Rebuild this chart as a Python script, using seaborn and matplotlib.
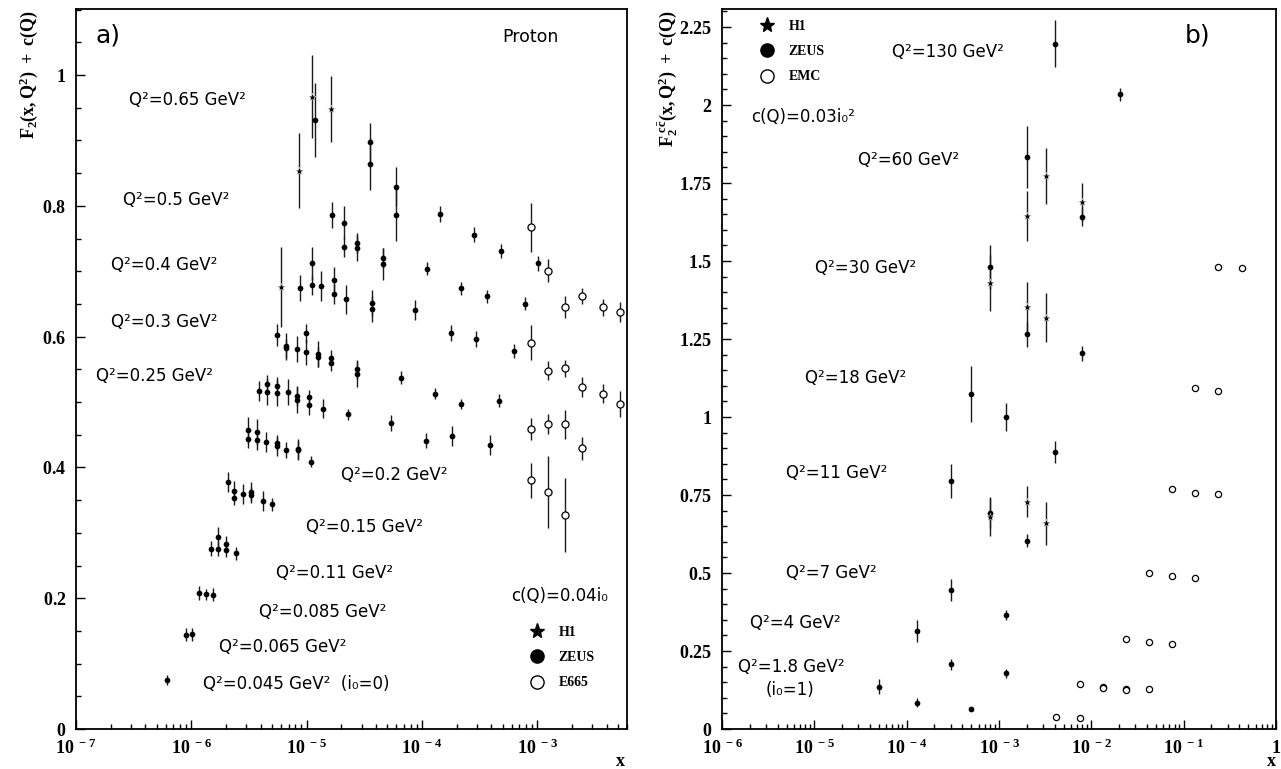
import numpy as np
import pandas as pd
import matplotlib
matplotlib.use("Agg")
import matplotlib.pyplot as plt
import seaborn as sns
from matplotlib.ticker import LogLocator, MultipleLocator, FuncFormatter, NullFormatter
from matplotlib.lines import Line2D

# ---------------- data: panel a) proton F2 ----------------
a_h1_x = [8.6e-6, 1.12e-5, 1.62e-5, 6.0e-6]
a_h1_y = [0.854, 0.967, 0.948, 0.676]
a_h1_err = [0.057, 0.063, 0.050, 0.061]

a_zeus_x = [
    1.19e-5, 3.57e-5, 3.57e-5, 5.97e-5, 5.97e-5, 1.42e-4, 2.85e-4, 4.8e-4, 1.02e-3,
    1.65e-5, 2.11e-5, 2.11e-5, 2.75e-5, 2.75e-5, 4.57e-5, 4.57e-5, 1.10e-4, 2.2e-4, 3.64e-4, 7.83e-4,
    8.8e-6, 1.11e-5, 1.11e-5, 1.34e-5, 1.71e-5, 1.71e-5, 2.21e-5, 3.66e-5, 3.66e-5, 8.75e-5, 1.77e-4, 2.92e-4, 6.24e-4,
    5.53e-6, 6.6e-6, 6.6e-6, 8.2e-6, 9.96e-6, 9.96e-6, 1.26e-5, 1.26e-5, 1.63e-5, 1.63e-5, 2.72e-5, 2.72e-5,
    6.55e-5, 1.31e-4, 2.18e-4, 4.7e-4,
    3.87e-6, 4.56e-6, 4.56e-6, 5.51e-6, 5.51e-6, 6.85e-6, 8.3e-6, 8.3e-6, 1.05e-5, 1.05e-5, 1.38e-5, 2.28e-5,
    5.42e-5, 1.09e-4, 1.81e-4, 3.89e-4,
    3.13e-6, 3.13e-6, 3.69e-6, 3.69e-6, 4.42e-6, 5.55e-6, 5.55e-6, 6.62e-6, 8.45e-6, 8.45e-6, 1.10e-5,
    2.07e-6, 2.36e-6, 2.36e-6, 2.80e-6, 3.29e-6, 3.29e-6, 4.17e-6, 5.02e-6,
    1.49e-6, 1.70e-6, 1.70e-6, 2.00e-6, 2.00e-6, 2.42e-6,
    1.17e-6, 1.33e-6, 1.54e-6,
    9.0e-7, 1.02e-6,
    6.15e-7,
]
a_zeus_y = [
    0.931, 0.897, 0.864, 0.829, 0.786, 0.788, 0.756, 0.731, 0.712,
    0.786, 0.774, 0.737, 0.743, 0.735, 0.720, 0.711, 0.704, 0.674, 0.662, 0.650,
    0.675, 0.712, 0.679, 0.677, 0.687, 0.665, 0.657, 0.652, 0.642, 0.641, 0.606, 0.596, 0.578,
    0.602, 0.585, 0.582, 0.581, 0.605, 0.576, 0.574, 0.569, 0.568, 0.560, 0.550, 0.543,
    0.537, 0.513, 0.497, 0.502,
    0.517, 0.527, 0.515, 0.524, 0.514, 0.515, 0.509, 0.503, 0.507, 0.495, 0.490, 0.481,
    0.468, 0.441, 0.448, 0.434,
    0.457, 0.444, 0.454, 0.442, 0.439, 0.438, 0.432, 0.427, 0.428, 0.426, 0.409,
    0.378, 0.364, 0.354, 0.359, 0.363, 0.358, 0.349, 0.344,
    0.276, 0.294, 0.276, 0.283, 0.273, 0.269,
    0.208, 0.206, 0.205,
    0.144, 0.145,
    0.075,
]
a_zeus_err = [
    0.057, 0.030, 0.040, 0.030, 0.040, 0.012, 0.012, 0.010, 0.012,
    0.020, 0.025, 0.015, 0.015, 0.020, 0.015, 0.025, 0.010, 0.010, 0.010, 0.010,
    0.020, 0.025, 0.015, 0.023, 0.020, 0.015, 0.022, 0.020, 0.020, 0.015, 0.012, 0.012, 0.010,
    0.017, 0.020, 0.015, 0.020, 0.015, 0.020, 0.020, 0.015, 0.012, 0.012, 0.015, 0.020,
    0.010, 0.008, 0.008, 0.010,
    0.015, 0.015, 0.020, 0.015, 0.020, 0.020, 0.015, 0.020, 0.012, 0.015, 0.015, 0.008,
    0.012, 0.012, 0.015, 0.015,
    0.020, 0.015, 0.020, 0.015, 0.015, 0.012, 0.015, 0.012, 0.015, 0.015, 0.008,
    0.015, 0.015, 0.012, 0.015, 0.015, 0.012, 0.015, 0.010,
    0.012, 0.015, 0.012, 0.012, 0.010, 0.010,
    0.010, 0.008, 0.010,
    0.010, 0.010,
    0.008,
]

a_e665_x = [8.86e-4, 1.24e-3, 1.75e-3, 2.45e-3, 3.68e-3, 5.18e-3,
            8.86e-4, 1.24e-3, 1.75e-3, 2.45e-3, 3.68e-3, 5.18e-3,
            8.86e-4, 1.24e-3, 1.75e-3, 2.45e-3,
            8.86e-4, 1.24e-3, 1.75e-3]
a_e665_y = [0.767, 0.701, 0.645, 0.662, 0.645, 0.638,
            0.591, 0.548, 0.552, 0.523, 0.513, 0.497,
            0.459, 0.466, 0.466, 0.429,
            0.380, 0.363, 0.327]
a_e665_err = [0.037, 0.017, 0.017, 0.012, 0.013, 0.015,
              0.027, 0.015, 0.013, 0.015, 0.015, 0.020,
              0.017, 0.015, 0.022, 0.018,
              0.027, 0.055, 0.057]

a_labels = ["Q²=0.65 GeV²", "Q²=0.5 GeV²", "Q²=0.4 GeV²", "Q²=0.3 GeV²", "Q²=0.25 GeV²",
            "Q²=0.2 GeV²", "Q²=0.15 GeV²", "Q²=0.11 GeV²", "Q²=0.085 GeV²",
            "Q²=0.065 GeV²", "Q²=0.045 GeV²  (i₀=0)", "c(Q)=0.04i₀"]

# ---------------- data: panel b) charm F2 ----------------
b_h1_x = [2.0e-3, 3.21e-3, 8.0e-3, 8.0e-4, 2.0e-3, 3.21e-3, 8.0e-4, 2.0e-3, 3.21e-3]
b_h1_y = [1.644, 1.772, 1.690, 1.430, 1.354, 1.319, 0.680, 0.728, 0.659]
b_h1_err = [0.080, 0.090, 0.060, 0.090, 0.080, 0.080, 0.060, 0.050, 0.070]

b_zeus_x = [4.06e-3, 2.02e-2, 2.0e-3, 8.0e-3, 8.0e-4, 2.0e-3, 8.0e-3, 4.95e-4, 1.2e-3, 4.06e-3,
            2.99e-4, 8.0e-4, 2.0e-3, 2.99e-4, 1.2e-3, 1.30e-4, 2.99e-4, 1.2e-3, 5.0e-5, 1.30e-4, 4.95e-4]
b_zeus_y = [2.197, 2.034, 1.834, 1.642, 1.480, 1.265, 1.204, 1.074, 1.001, 0.889,
            0.796, 0.693, 0.604, 0.446, 0.365, 0.315, 0.207, 0.178, 0.136, 0.084, 0.063]
b_zeus_err = [0.076, 0.022, 0.100, 0.030, 0.070, 0.040, 0.025, 0.090, 0.045, 0.035,
              0.055, 0.050, 0.020, 0.035, 0.015, 0.035, 0.018, 0.014, 0.025, 0.015, 0.006]

b_emc_x = [0.236, 0.426, 0.132, 0.236, 0.0748, 0.132, 0.236, 0.042, 0.0748, 0.132,
           0.0235, 0.042, 0.0748, 7.46e-3, 0.0133, 0.0133, 0.0235, 0.0235, 0.042, 4.19e-3, 7.46e-3]
b_emc_y = [1.482, 1.477, 1.092, 1.084, 0.768, 0.757, 0.753, 0.499, 0.491, 0.485,
           0.287, 0.280, 0.272, 0.144, 0.134, 0.130, 0.127, 0.126, 0.127, 0.037, 0.034]

b_labels = ["Q²=130 GeV²", "c(Q)=0.03i₀²", "Q²=60 GeV²", "Q²=30 GeV²", "Q²=18 GeV²",
            "Q²=11 GeV²", "Q²=7 GeV²", "Q²=4 GeV²", "Q²=1.8 GeV²", "(i₀=1)"]

# ---------------- style ----------------
sns.set_theme(style="ticks")
plt.rcParams["font.family"] = ["DejaVu Sans"]
plt.rcParams["text.color"] = "black"
plt.rcParams["axes.labelcolor"] = "black"
plt.rcParams["xtick.color"] = "black"
plt.rcParams["ytick.color"] = "black"
plt.rcParams["mathtext.fontset"] = "custom"
plt.rcParams["mathtext.bf"] = "Liberation Serif:bold"
plt.rcParams["mathtext.rm"] = "Liberation Serif:bold"
plt.rcParams["mathtext.it"] = "Liberation Serif:bold"

W, H = 1281, 769
fig = plt.figure(figsize=(W / 100, H / 100), dpi=100)
fig.patch.set_facecolor("white")
axA = fig.add_axes([76 / W, 40 / H, 551 / W, 720 / H])
axB = fig.add_axes([722 / W, 40 / H, 554 / W, 720 / H])


def series(ax, x, y, err, kind):
    if err is not None:
        ax.errorbar(x, y, yerr=err, fmt="none", ecolor="#1a1a1a", elinewidth=1.0,
                    capsize=0, zorder=2)
    df = pd.DataFrame({"x": x, "y": y})
    if kind == "star":
        sns.scatterplot(data=df, x="x", y="y", ax=ax, marker="*", s=38, color="black",
                        edgecolor="white", linewidth=0.3, zorder=3, legend=False)
    elif kind == "dot":
        sns.scatterplot(data=df, x="x", y="y", ax=ax, marker="o", s=17, color="black",
                        edgecolor="black", linewidth=0, zorder=3, legend=False)
    else:
        sns.scatterplot(data=df, x="x", y="y", ax=ax, marker="o", s=kind, color="white",
                        edgecolor="black", linewidth=0.9, zorder=3, legend=False)


for ax in (axA, axB):
    ax.set_xscale("log")

series(axA, a_e665_x, a_e665_y, a_e665_err, 26)
series(axA, a_zeus_x, a_zeus_y, a_zeus_err, "dot")
series(axA, a_h1_x, a_h1_y, a_h1_err, "star")

series(axB, b_emc_x, b_emc_y, None, 20)
series(axB, b_zeus_x, b_zeus_y, b_zeus_err, "dot")
series(axB, b_h1_x, b_h1_y, b_h1_err, "star")

axA.set_xlim(1e-7, 6e-3)
axA.set_ylim(0, 1.101)
axB.set_xlim(1e-6, 1.0)
axB.set_ylim(0, 2.308)


def xfmt(v, pos):
    e = int(round(np.log10(v)))
    if e == 0:
        return r"$\mathbf{1}$"
    return r"$\mathbf{10^{\ %d}}$" % e


def yfmt(v, pos):
    return r"$\mathbf{%s}$" % ("%g" % round(v, 3))


for ax, major in ((axA, 0.2), (axB, 0.25)):
    ax.set_xlabel("")
    ax.set_ylabel("")
    for sp in ax.spines.values():
        sp.set_visible(True)
        sp.set_color("black")
        sp.set_linewidth(1.3)
    ax.xaxis.set_major_locator(LogLocator(base=10, numticks=20))
    ax.xaxis.set_minor_locator(LogLocator(base=10, subs=np.arange(2, 10), numticks=20))
    ax.xaxis.set_major_formatter(FuncFormatter(xfmt))
    ax.xaxis.set_minor_formatter(NullFormatter())
    ax.yaxis.set_major_locator(MultipleLocator(major))
    ax.yaxis.set_minor_locator(MultipleLocator(0.05))
    ax.yaxis.set_major_formatter(FuncFormatter(yfmt))
    ax.tick_params(which="both", direction="in", top=False, right=False, color="black",
                   width=1.0, labelsize=13, labelcolor="black")
    ax.tick_params(which="major", length=6.5)
    ax.tick_params(which="minor", length=3.5)
    ax.tick_params(axis="x", which="major", pad=7)
    ax.tick_params(axis="y", which="major", pad=7)
    ax.grid(False)
    ax.set_facecolor("white")

# axis titles
fig.text(29 / W, 1 - 10 / H, r"$\mathbf{F_2(x,Q^2)\ +\ c(Q)}$", rotation=90,
         ha="center", va="top", fontsize=13)
fig.text(668 / W, 1 - 10 / H, r"$\mathbf{F_2^{\ c\bar{c}}(x,Q^2)\ +\ c(Q)}$", rotation=90,
         ha="center", va="top", fontsize=13)
fig.text(620 / W, 1 - 761 / H, r"$\mathbf{x}$", ha="center", va="center", fontsize=13)
fig.text(1271 / W, 1 - 761 / H, r"$\mathbf{x}$", ha="center", va="center", fontsize=13)

# panel tags
fig.text(108 / W, 1 - 36 / H, "a)", ha="center", va="center", fontsize=18)
fig.text(1198 / W, 1 - 36 / H, "b)", ha="center", va="center", fontsize=18)
fig.text(530 / W, 1 - 37 / H, "Proton", ha="center", va="center", fontsize=12.5)

# Q^2 annotations
a_pos = [(129, 100), (123, 200), (111, 265), (111, 322), (96, 376), (341, 475),
         (306, 527), (276, 573), (259, 612), (219, 647), (203, 684), (511, 596)]
for txt, (px, py) in zip(a_labels, a_pos):
    fig.text(px / W, 1 - py / H, txt, ha="left", va="center", fontsize=12)

b_pos = [(892, 52), (751, 117), (858, 160), (815, 268), (805, 378), (786, 473),
         (786, 573), (750, 623), (738, 667), (766, 690)]
for txt, (px, py) in zip(b_labels, b_pos):
    fig.text(px / W, 1 - py / H, txt, ha="left", va="center", fontsize=12)

# legends
def proxies(open_name):
    return ([Line2D([], [], ls="none", marker="*", color="black", markersize=11),
             Line2D([], [], ls="none", marker="o", color="black", markersize=9.5),
             Line2D([], [], ls="none", marker="o", markerfacecolor="white",
                    markeredgecolor="black", markeredgewidth=1.0, markersize=9.5)],
            ["H1", "ZEUS", open_name])


for ax, name, (mx, my) in ((axA, "E665", (537, 632)), (axB, "EMC", (767, 26))):
    h, l = proxies(name)
    leg = ax.legend(h, l, loc="upper left",
                    bbox_to_anchor=((mx - 8) / W, 1 - (my - 6) / H),
                    bbox_transform=fig.transFigure, frameon=False, borderpad=0,
                    borderaxespad=0, handlelength=1.15, handletextpad=1.0,
                    labelspacing=0.88,
                    prop={"family": "Liberation Serif", "weight": "bold", "size": 10})

fig.savefig("out.png", dpi=100, facecolor="white")
